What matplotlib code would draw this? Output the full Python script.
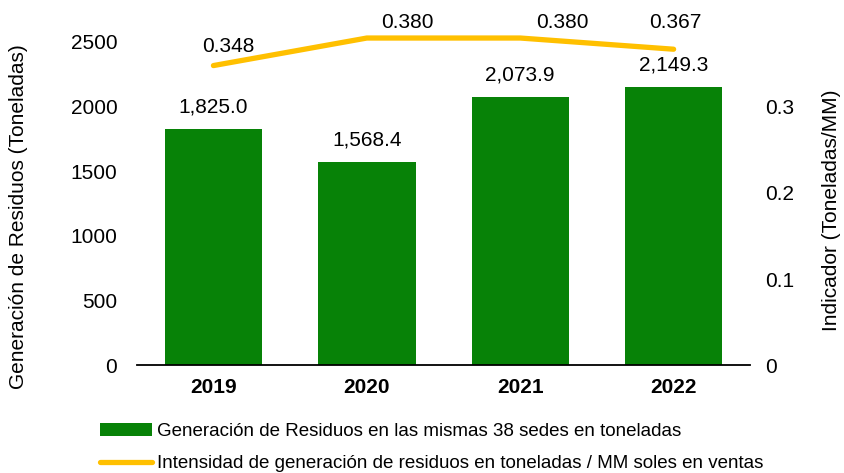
import matplotlib.pyplot as plt
import numpy as np

plt.rcParams['font.family'] = ['Liberation Sans', 'DejaVu Sans']

years = ['2019', '2020', '2021', '2022']
residuos = [1825.0, 1568.4, 2073.9, 2149.3]
intensidad = [0.348, 0.380, 0.380, 0.367]

bar_label = 'Generación de Residuos en las mismas 38 sedes en toneladas'
line_label = 'Intensidad de generación de residuos en toneladas / MM soles en ventas'

green = '#078207'
yellow = '#FFC000'
fs = 15

fig = plt.figure(figsize=(8.44, 4.73), dpi=100)
ax = fig.add_axes([0.162, 0.228, 0.727, 0.728])
x = np.arange(len(years))

bars = ax.bar(x, residuos, width=0.635, color=green, label=bar_label, zorder=2)
ax.set_xlim(-0.5, len(years) - 0.5)
ax.set_ylim(0, 2662)
ax.set_yticks([0, 500, 1000, 1500, 2000, 2500])
ax.set_xticks(x)
ax.set_xticklabels(years, fontweight='bold', fontsize=fs)
ax.tick_params(axis='both', length=0, labelsize=fs)
ax.tick_params(axis='x', pad=9)
ax.tick_params(axis='y', pad=14)
for s in ['top', 'left', 'right']:
    ax.spines[s].set_visible(False)
ax.spines['bottom'].set_linewidth(1.3)
ax.set_ylabel('Generación de Residuos (Toneladas)', fontsize=fs)
ax.yaxis.set_label_coords(-0.177, 0.43)

for xi, v in zip(x, residuos):
    ax.annotate(f'{v:,.1f}', (xi, v), xytext=(0, 16), textcoords='offset points',
                ha='center', va='center', fontsize=fs)

ax2 = ax.twinx()
ax2.plot(x, intensidad, color=yellow, lw=3.8, solid_capstyle='round',
         label=line_label, clip_on=False, zorder=3)
ax2.set_ylim(0, 0.4)
ax2.set_yticks([0, 0.1, 0.2, 0.3])
ax2.set_yticklabels(['0', '0.1', '0.2', '0.3'])
ax2.tick_params(axis='y', length=0, labelsize=fs, pad=11)
for s in ['top', 'left', 'right', 'bottom']:
    ax2.spines[s].set_visible(False)
ax2.set_ylabel('Indicador (Toneladas/MM)', fontsize=fs)
ax2.yaxis.set_label_coords(1.117, 0.45)

offsets = [(11, 14), (29, 11.5), (30, 11.5), (1.5, 19.5)]
for xi, v, off in zip(x, intensidad, offsets):
    ax2.annotate(f'{v:.3f}', (xi, v), xytext=off, textcoords='offset points',
                 ha='center', va='center', fontsize=fs, annotation_clip=False)

handles = [bars, ax2.get_lines()[0]]
fig.legend(handles, [bar_label, line_label], loc='upper left',
           bbox_to_anchor=(100 / 844, 1 - 423 / 473), frameon=False,
           fontsize=13.5, handlelength=2.77, handletextpad=0.27,
           labelspacing=0.8, borderaxespad=0, borderpad=0)

fig.savefig('out.png', dpi=100)
